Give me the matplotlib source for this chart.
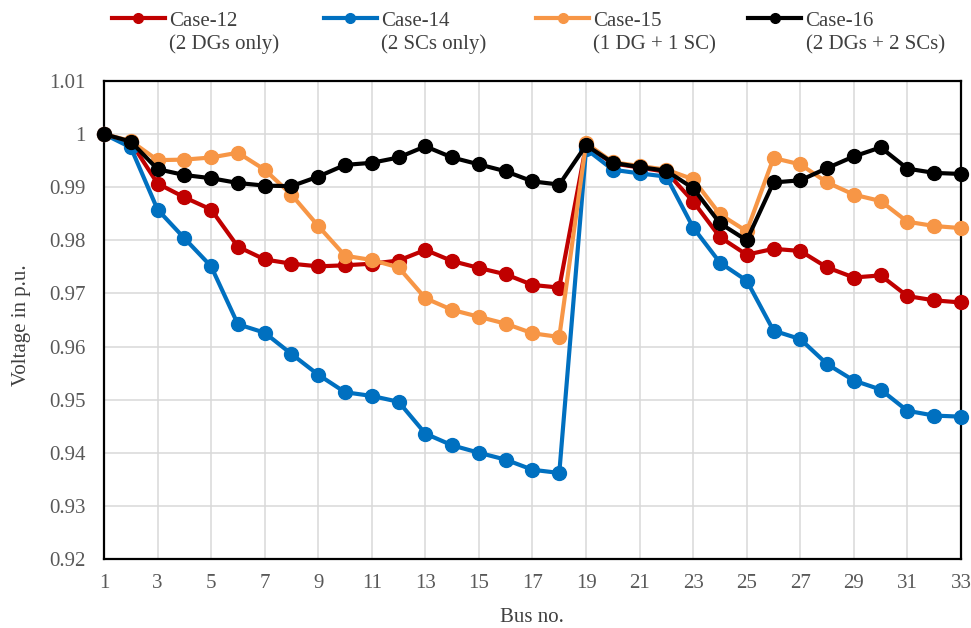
import numpy as np
import matplotlib
matplotlib.use("Agg")
from matplotlib import pyplot as plt

# --------------------------------------------
# データ
# --------------------------------------------
bus = list(range(1, 34))

case12 = [1.0, 0.9985, 0.9907, 0.9881, 0.9858, 0.9788, 0.9764, 0.9756, 0.9751, 0.9753,
          0.9756, 0.9762, 0.9782, 0.9761, 0.9748, 0.9736, 0.9716, 0.9711, 0.9978, 0.9945,
          0.9937, 0.9929, 0.9873, 0.9806, 0.9773, 0.9784, 0.9780, 0.9749, 0.9730, 0.9734,
          0.9695, 0.9687, 0.9683]
case14 = [1.0, 0.9975, 0.9858, 0.9804, 0.9751, 0.9642, 0.9626, 0.9586, 0.9547, 0.9514,
          0.9507, 0.9496, 0.9436, 0.9414, 0.9400, 0.9387, 0.9368, 0.9362, 0.9972, 0.9933,
          0.9926, 0.9920, 0.9824, 0.9758, 0.9724, 0.9630, 0.9614, 0.9567, 0.9536, 0.9519,
          0.9479, 0.9470, 0.9468]
case15 = [1.0, 0.9987, 0.9951, 0.9952, 0.9956, 0.9965, 0.9933, 0.9886, 0.9827, 0.9771,
          0.9763, 0.9749, 0.9691, 0.9669, 0.9656, 0.9643, 0.9625, 0.9618, 0.9983, 0.9947,
          0.9940, 0.9933, 0.9915, 0.9849, 0.9817, 0.9955, 0.9943, 0.9909, 0.9886, 0.9874,
          0.9835, 0.9827, 0.9823]
case16 = [1.0, 0.9986, 0.9934, 0.9923, 0.9917, 0.9908, 0.9903, 0.9902, 0.9920, 0.9942,
          0.9946, 0.9956, 0.9977, 0.9956, 0.9943, 0.9930, 0.9911, 0.9905, 0.9979, 0.9946,
          0.9938, 0.9931, 0.9898, 0.9832, 0.9800, 0.9909, 0.9913, 0.9936, 0.9958, 0.9975,
          0.9935, 0.9927, 0.9925]

names = ["Case-12", "Case-14", "Case-15", "Case-16"]
notes = ["(2 DGs only)", "(2 SCs only)", "(1 DG + 1 SC)", "(2 DGs + 2 SCs)"]
colors = ["#C00000", "#0070C0", "#F79646", "#000000"]

x_ticks = list(range(1, 34, 2))
y_ticks = [0.92, 0.93, 0.94, 0.95, 0.96, 0.97, 0.98, 0.99, 1.0, 1.01]
y_labels = ["0.92", "0.93", "0.94", "0.95", "0.96", "0.97", "0.98", "0.99", "1", "1.01"]

# --------------------------------------------
# 描画
# --------------------------------------------
plt.rcParams['font.family'] = ['Liberation Serif', 'DejaVu Serif']

fig = plt.figure(figsize=(9.71, 6.28), dpi=100)
ax = fig.add_axes([0.1071, 0.1099, 0.8826, 0.7611])

for vals, name, col in zip([case12, case14, case15, case16], names, colors):
    ax.plot(bus, vals, color=col, lw=3, marker="o", ms=10, label=name,
            solid_joinstyle="round", clip_on=False, zorder=3)

ax.set_xlim(1, 33)
ax.set_ylim(0.92, 1.01)
ax.set_xticks(x_ticks)
ax.set_yticks(y_ticks)
ax.set_yticklabels(y_labels)
ax.grid(True, color="#d9d9d9", lw=1.1)
ax.set_axisbelow(True)
ax.tick_params(length=0, labelsize=15, labelcolor="#595959")
ax.tick_params(axis="y", pad=13)
ax.tick_params(axis="x", pad=11)
for s in ax.spines.values():
    s.set_color("black")
    s.set_linewidth(1.6)

fig.text(0.022, 0.482, "Voltage in p.u.", rotation=90, ha="center", va="center",
         fontsize=15, color="#404040")
fig.text(0.548, 0.017, "Bus no.", ha="center", va="center", fontsize=15, color="#404040")

# 凡例（1行目）
leg = fig.legend(loc="center left", bbox_to_anchor=(0.115, 0.967), ncol=4, frameon=False,
                 fontsize=15, handlelength=2.55, handletextpad=0.2, columnspacing=4.15,
                 borderpad=0, borderaxespad=0, numpoints=1)
for t in leg.get_texts():
    t.set_color("#404040")
for h in leg.legend_handles:
    h.set_markersize(7)

# 凡例（2行目）
fig.canvas.draw()
inv = fig.transFigure.inverted()
for t, note in zip(leg.get_texts(), notes):
    bb = t.get_window_extent()
    x0 = inv.transform((bb.x0, bb.y0))[0]
    fig.text(x0, 0.929, note, ha="left", va="center", fontsize=15, color="#404040")

fig.savefig("out.png", dpi=100)
